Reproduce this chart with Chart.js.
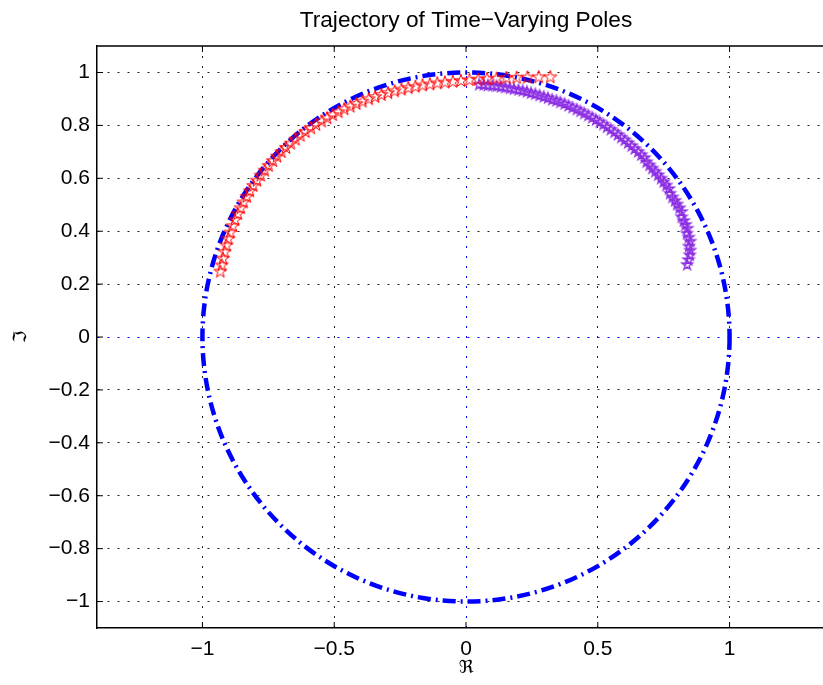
<!DOCTYPE html>
<html>
<head>
<meta charset="utf-8">
<script src="https://cdn.jsdelivr.net/npm/chart.js@4"></script>
<style>
  html, body { margin: 0; padding: 0; background: #fff; overflow: hidden; }
</style>
</head>
<body>
<canvas id="poles" width="932" height="685" style="width:932px;height:685px"></canvas>
<script>
// pole trajectory
const redX = [0.320, 0.276, 0.233, 0.192, 0.153, 0.116, 0.080, 0.046, 0.013, -0.019,
  -0.050, -0.080, -0.109, -0.137, -0.165, -0.192, -0.219, -0.245, -0.271, -0.296,
  -0.321, -0.345, -0.369, -0.393, -0.416, -0.439, -0.462, -0.484, -0.506, -0.527,
  -0.548, -0.569, -0.589, -0.609, -0.628, -0.647, -0.665, -0.683, -0.700, -0.717,
  -0.733, -0.749, -0.764, -0.779, -0.793, -0.807, -0.820, -0.832, -0.844, -0.855,
  -0.866, -0.876, -0.885, -0.894, -0.902, -0.909, -0.916, -0.922, -0.927, -0.932];
const redY = [0.982, 0.982, 0.981, 0.980, 0.979, 0.977, 0.975, 0.973, 0.971, 0.968,
  0.965, 0.962, 0.959, 0.955, 0.951, 0.946, 0.941, 0.935, 0.929, 0.922,
  0.915, 0.907, 0.899, 0.890, 0.881, 0.871, 0.861, 0.850, 0.839, 0.827,
  0.815, 0.802, 0.789, 0.775, 0.761, 0.746, 0.731, 0.715, 0.699, 0.682,
  0.665, 0.647, 0.629, 0.610, 0.591, 0.571, 0.551, 0.530, 0.509, 0.487,
  0.465, 0.442, 0.419, 0.395, 0.371, 0.346, 0.321, 0.296, 0.271, 0.247];

const purpleX = [0.050, 0.067, 0.083, 0.100, 0.116, 0.133, 0.149, 0.166, 0.182, 0.199,
  0.215, 0.231, 0.247, 0.263, 0.279, 0.295, 0.311, 0.327, 0.343, 0.358,
  0.374, 0.389, 0.404, 0.420, 0.434, 0.449, 0.464, 0.479, 0.493, 0.507,
  0.521, 0.535, 0.549, 0.563, 0.576, 0.589, 0.602, 0.615, 0.628, 0.640,
  0.653, 0.665, 0.677, 0.685, 0.696, 0.707, 0.718, 0.729, 0.740, 0.750,
  0.760, 0.770, 0.774, 0.783, 0.793, 0.801, 0.810, 0.818, 0.818, 0.826,
  0.833, 0.840, 0.838, 0.845, 0.851, 0.846, 0.851, 0.849, 0.844, 0.839];
const purpleY = [0.954, 0.953, 0.951, 0.950, 0.948, 0.946, 0.943, 0.940, 0.937, 0.934,
  0.931, 0.927, 0.922, 0.918, 0.913, 0.908, 0.903, 0.897, 0.893, 0.887,
  0.881, 0.874, 0.867, 0.860, 0.853, 0.845, 0.837, 0.829, 0.820, 0.812,
  0.803, 0.793, 0.784, 0.774, 0.764, 0.754, 0.744, 0.733, 0.722, 0.711,
  0.700, 0.688, 0.677, 0.661, 0.649, 0.637, 0.625, 0.612, 0.599, 0.586,
  0.573, 0.560, 0.542, 0.528, 0.515, 0.501, 0.487, 0.473, 0.453, 0.439,
  0.424, 0.410, 0.391, 0.376, 0.361, 0.342, 0.327, 0.309, 0.291, 0.273];

const xTicks = [-1, -0.5, 0, 0.5, 1];
const yTicks = [-1, -0.8, -0.6, -0.4, -0.2, 0, 0.2, 0.4, 0.6, 0.8, 1];
const unitRadius = 1;

// five pointed star marker, like matlab 'p'
function starMarker(color, r, lw) {
  const size = Math.ceil(2 * r + 4);
  const c = document.createElement('canvas');
  c.width = size; c.height = size;
  const g = c.getContext('2d');
  g.beginPath();
  for (let i = 0; i < 10; i++) {
    const rad = i % 2 ? r * 0.382 : r;
    const a = -Math.PI / 2 + i * Math.PI / 5;
    g.lineTo(size / 2 + rad * Math.cos(a), size / 2 + rad * Math.sin(a));
  }
  g.closePath();
  g.strokeStyle = color;
  g.lineWidth = lw;
  g.stroke();
  return c;
}

function pts(xs, ys) {
  return xs.map((x, i) => ({x: x, y: ys[i]}));
}

function minusSign(v) {
  return String(v).replace('-', '\u2212');
}

// unit circle + frame and inward ticks
const extras = {
  id: 'extras',
  beforeDatasetsDraw(chart) {
    const {ctx, scales: {x, y}} = chart;
    const cx = x.getPixelForValue(0), cy = y.getPixelForValue(0);
    const rx = x.getPixelForValue(unitRadius) - cx;
    const ry = cy - y.getPixelForValue(unitRadius);
    ctx.save();
    ctx.strokeStyle = '#0000ff';
    ctx.lineWidth = 4.5;
    ctx.setLineDash([13, 5, 2, 5]);
    ctx.beginPath();
    ctx.ellipse(cx, cy, rx, ry, 0, 0, Math.PI * 2);
    ctx.stroke();
    ctx.restore();
  },
  afterDraw(chart) {
    const {ctx, chartArea: a, scales: {x, y}} = chart;
    ctx.save();
    ctx.strokeStyle = '#000';
    ctx.lineWidth = 1.5;
    ctx.beginPath();
    ctx.moveTo(a.left, a.top); ctx.lineTo(a.right, a.top); ctx.lineTo(a.right, a.bottom);
    ctx.stroke();
    ctx.lineWidth = 1;
    ctx.beginPath();
    xTicks.forEach(v => {
      const px = x.getPixelForValue(v);
      ctx.moveTo(px, a.bottom); ctx.lineTo(px, a.bottom - 6);
      ctx.moveTo(px, a.top); ctx.lineTo(px, a.top + 6);
    });
    yTicks.forEach(v => {
      const py = y.getPixelForValue(v);
      ctx.moveTo(a.left, py); ctx.lineTo(a.left + 6, py);
      ctx.moveTo(a.right, py); ctx.lineTo(a.right - 6, py);
    });
    ctx.stroke();
    ctx.restore();
  }
};

const tickFont = {family: "'Liberation Sans', Arial, sans-serif", size: 21};
const gridColor = c => (c.tick && c.tick.value === 0) ? '#0000ff' : '#222';

const config = {
  type: 'scatter',
  data: {
    datasets: [
      {
        label: 'red',
        data: pts(redX, redY),
        pointStyle: starMarker('#ff0000', 6.8, 1),
        showLine: false
      },
      {
        label: 'purple',
        data: pts(purpleX, purpleY),
        pointStyle: starMarker('#8a2be2', 5.6, 1.3),
        showLine: false
      }
    ]
  },
  options: {
    responsive: false,
    animation: false,
    events: [],
    layout: {padding: {left: 0, right: 97, top: 0, bottom: 0}},
    plugins: {
      legend: {display: false},
      tooltip: {enabled: false},
      title: {
        display: true,
        fullSize: false,
        text: 'Trajectory of Time\u2212Varying Poles',
        color: '#000',
        font: {family: "'Liberation Sans', Arial, sans-serif", size: 22.7, weight: 'normal'},
        padding: {top: 7.6, bottom: 11.2}
      }
    },
    scales: {
      x: {
        type: 'linear',
        min: -1.4,
        max: 1.4,
        afterBuildTicks: s => { s.ticks = xTicks.map(v => ({value: v})); },
        afterFit: s => { s.height = 57; },
        ticks: {color: '#000', font: tickFont, padding: 9, maxRotation: 0, callback: minusSign},
        grid: {color: gridColor, lineWidth: 1, drawTicks: false},
        border: {display: true, color: '#000', width: 1.5, dash: [2, 8]},
        title: {
          display: true,
          text: '\u211C',
          color: '#000',
          font: {family: "'DejaVu Serif', 'DejaVu Sans', serif", size: 18},
          padding: {top: 0, bottom: 6}
        }
      },
      y: {
        type: 'linear',
        min: -1.1,
        max: 1.1,
        afterBuildTicks: s => { s.ticks = yTicks.map(v => ({value: v})); },
        afterFit: s => { s.width = 97; },
        ticks: {color: '#000', font: tickFont, padding: 7, callback: minusSign},
        grid: {color: gridColor, lineWidth: 1, drawTicks: false},
        border: {display: true, color: '#000', width: 1.5, dash: [2, 8]},
        title: {
          display: true,
          text: '\u2111',
          color: '#000',
          font: {family: "'DejaVu Serif', 'DejaVu Sans', serif", size: 18},
          padding: {top: 11, bottom: 0}
        }
      }
    }
  },
  plugins: [extras]
};

window.onload = function() {
  const ctx = document.getElementById('poles').getContext('2d');
  window.poleChart = new Chart(ctx, config);
};
</script>
</body>
</html>
